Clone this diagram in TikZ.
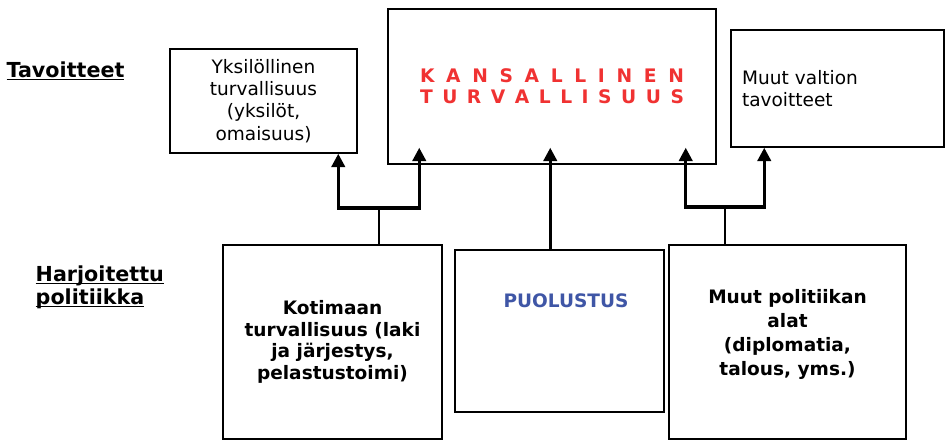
\documentclass[tikz,border=0pt]{standalone}
\usepackage{fontspec}
\setmainfont{DejaVu Sans}
\usepackage{xcolor}
\usetikzlibrary{positioning,calc,arrows.meta}
\definecolor{kanred}{RGB}{240,50,50}
\definecolor{puoblue}{RGB}{63,86,166}
\newcommand{\headline}[1]{\underline{\smash{#1}}}

\begin{document}
\begin{tikzpicture}[x=0.75pt, y=-0.75pt,
		box/.style={shape=rectangle, draw, line width=1.1pt, inner sep=0pt, align=center},
		arr/.style={line width=2.3pt, -{Triangle[width=10pt,length=10pt]}},
		stem/.style={line width=0.8pt},
		plain/.style={font=\fontsize{13.9}{16.6}\selectfont},
		heavy/.style={font=\bfseries\fontsize{13.9}{16.3}\selectfont},
		head/.style={font=\bfseries\fontsize{15.5}{17.2}\selectfont, align=left}]
		\useasboundingbox (0,0) rectangle (947,440);
		\node[name=tav, head] at (65.5,79) {\headline{Tavoitteet}};
		\node[name=har, head, anchor=west] at (31,294) {\headline{Harjoitettu}\\\headline{politiikka}};
		\node[name=yks, box, plain, minimum width=140.25pt, minimum height=78pt] at (263.5,101) {Yksilöllinen\\turvallisuus\\(yksilöt,\\omaisuus)};
		\node[name=kan, box, text=kanred, font=\bfseries\fontsize{14}{15.75}\selectfont, minimum width=246pt, minimum height=116.25pt] at (552,86.5) {\makebox[198pt][s]{K\hfill A\hfill N\hfill S\hfill A\hfill L\hfill L\hfill I\hfill N\hfill E\hfill N}\\\makebox[198pt][s]{T\hfill U\hfill R\hfill V\hfill A\hfill L\hfill L\hfill I\hfill S\hfill U\hfill U\hfill S}};
		\node[name=muu, box, plain, align=left, text width=143.25pt, minimum width=159.75pt, minimum height=87.75pt] at (837.5,88.5) {Muut valtion\\tavoitteet};
		\node[name=kot, box, heavy, minimum width=164.25pt, minimum height=145.5pt] at (332.5,342) {Kotimaan\\turvallisuus (laki\\ja järjestys,\\pelastustoimi)};
		\node[name=puo, box, minimum width=156.75pt, minimum height=121.5pt] at (559.5,331) {};
		\node[name=puot, heavy, text=puoblue] at ($(puo.north)+(6.5,51)$) {PUOLUSTUS};
		\node[name=alat, box, font=\bfseries\fontsize{13.9}{18}\selectfont, text depth=14pt, minimum width=177.75pt, minimum height=145.5pt] at (787.5,342) {Muut politiikan\\alat\\(diplomatia,\\talous, yms.)};
		\coordinate (jl) at (379,208);
		\coordinate (jr) at (725,207);
		\draw[stem] (kot.north -| jl) -- (jl);
		\draw[arr] (jl) -| ($(yks.south west)+(169,0)$);
		\draw[arr] (jl) -| ($(kan.south west)+(32,-17)$);
		\draw[arr] ($(puo.north west)+(96,0)$) -- ($(kan.south west)+(163,-17)$);
		\draw[stem] (alat.north -| jr) -- (jr);
		\draw[arr] (jr) -| ($(kan.south east)+(-31,-17)$);
		\draw[arr] (jr) -| ($(muu.south west)+(34,0)$);
	\end{tikzpicture}
\end{document}
